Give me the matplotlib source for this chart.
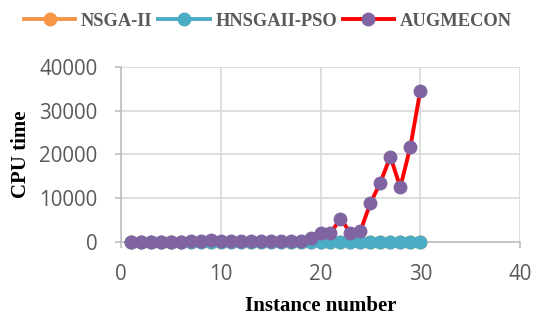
import matplotlib
matplotlib.use("Agg")
import matplotlib.pyplot as plt

instances = list(range(1, 31))
nsga2 = [5, 5, 5, 5, 5, 5, 5, 5, 5, 5, 5, 5, 5, 5, 5, 5, 5, 5, 5, 5,
         5, 5, 5, 5, 5, 5, 5, 5, 5, 5]
hnsgaii_pso = [10, 10, 10, 10, 10, 10, 10, 10, 20, 20, 20, 20, 20, 20, 20, 20, 20, 20, 30, 30,
               30, 30, 30, 30, 40, 40, 40, 40, 40, 50]
augmecon = [20, 30, 40, 50, 60, 80, 100, 150, 400, 200, 300, 150, 100, 100, 120, 150, 200, 300,
            850, 2000, 2000, 5300, 2100, 2500, 8850, 13550, 19500, 12500, 21650, 34500]

fig = plt.figure(figsize=(5.41, 3.2), dpi=100)
ax = fig.add_axes([0.2237, 0.244, 0.7375, 0.547])

ms = 9
lw = 2.8
ax.plot(instances, nsga2, color="#F79646", lw=lw, marker="o", ms=ms, label="NSGA-II", clip_on=False, zorder=3)
ax.plot(instances, hnsgaii_pso, color="#4BACC6", lw=lw, marker="o", ms=ms, label="HNSGAII-PSO", clip_on=False, zorder=4)
ax.plot(instances, augmecon, color="#FF0000", lw=lw, marker="o", ms=ms, mfc="#8064A2", mec="#8064A2",
        label="AUGMECON", clip_on=False, zorder=5)

ax.set_xlim(0, 40)
ax.set_ylim(0, 40000)
ax.set_xticks([0, 10, 20, 30, 40])
ax.set_yticks([0, 10000, 20000, 30000, 40000])
ax.grid(True, color="#D9D9D9", lw=1.2)
ax.set_axisbelow(True)
for s in ["top", "right"]:
    ax.spines[s].set_visible(False)
for s in ["left", "bottom"]:
    ax.spines[s].set_color("#BFBFBF")
    ax.spines[s].set_linewidth(1.2)
ax.tick_params(axis="both", colors="#BFBFBF", length=4, width=1.2, labelsize=14.8, labelcolor="#595959")
ax.tick_params(axis="y", pad=13)
ax.tick_params(axis="x", pad=12)
for lab in ax.get_xticklabels() + ax.get_yticklabels():
    lab.set_family("Open Sans")

ax.set_xlabel("Instance number", family="Liberation Serif", fontweight="bold", fontsize=15, labelpad=8)
ax.set_ylabel("CPU time", family="Liberation Serif", fontweight="bold", fontsize=15, labelpad=6)

leg = fig.legend(loc="upper center", bbox_to_anchor=(0.495, 1.0), ncol=3, frameon=False,
                 prop={"family": "Liberation Serif", "weight": "bold", "size": 13.3},
                 handlelength=2.8, handletextpad=0.3, columnspacing=0.3, borderaxespad=0.3)
for t in leg.get_texts():
    t.set_color("#595959")

fig.savefig("out.png", dpi=100)
